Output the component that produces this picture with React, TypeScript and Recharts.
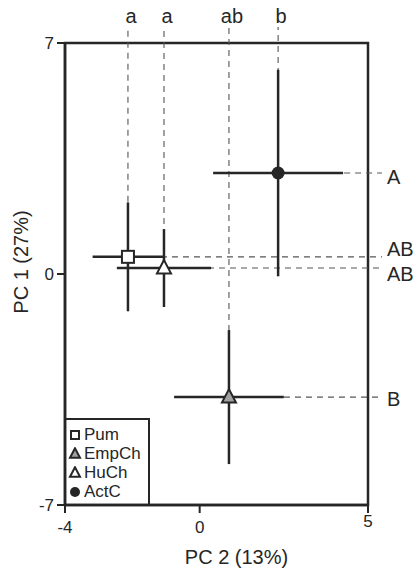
import {
  ErrorBar,
  Legend,
  ReferenceArea,
  ReferenceLine,
  Scatter,
  ScatterChart,
  XAxis,
  YAxis,
} from 'recharts';

const SERIES = ['Pum', 'EmpCh', 'HuCh', 'ActC'];
const PC2 = [-2.13, 0.87, -1.06, 2.33];
const PC1 = [0.52, -3.73, 0.18, 3.06];
const PC2_ERR = [1.05, 1.63, 1.4, 1.93];
const PC1_ERR = [1.65, 2.03, 1.18, 3.13];
const PC2_LETTERS = ['a', 'ab', 'a', 'b'];
const PC1_LETTERS = ['AB', 'B', 'AB', 'A'];
const X_TICKS = [-4, 0, 5];
const Y_TICKS = [-7, 0, 7];

const INK = '#262626';
const DASH = '#555';
const FONT = "'Liberation Sans', Arial, sans-serif";
// vertical nudge (px) for right-hand letters so the two AB's don't collide
const RIGHT_NUDGE = [-8, 2, 6, 4];

function Marker({ name, cx, cy, s }: { name: string; cx: number; cy: number; s: number }) {
  if (name === 'Pum') {
    return <rect x={cx - s / 2} y={cy - s / 2} width={s} height={s} fill="#fff" stroke={INK} strokeWidth={2} />;
  }
  if (name === 'ActC') {
    return <circle cx={cx} cy={cy} r={s / 2} fill={INK} />;
  }
  const h = s * 0.95;
  const pts = `${cx},${cy - h * 0.6} ${cx - s / 2},${cy + h * 0.4} ${cx + s / 2},${cy + h * 0.4}`;
  return (
    <polygon
      points={pts}
      fill={name === 'EmpCh' ? '#a0a0a0' : '#fff'}
      stroke={INK}
      strokeWidth={2}
      strokeLinejoin="miter"
    />
  );
}

const topTag = (letter: string) => (p: any) => (
  <g>
    <line x1={p.x1} y1={p.y1} x2={p.x2} y2={p.y2 - 16} stroke={DASH} strokeWidth={1.1} strokeDasharray="6 5" />
    <text x={p.x2 + 3} y={p.y2 - 20} textAnchor="middle" fontSize={20} fontFamily={FONT} fill={INK}>
      {letter}
    </text>
  </g>
);

const rightTag = (letter: string, nudge: number) => (p: any) => (
  <g>
    <line x1={p.x1} y1={p.y1} x2={p.x2 + 14} y2={p.y2} stroke={DASH} strokeWidth={1.1} strokeDasharray="6 5" />
    <text x={p.x2 + 19} y={p.y2 + nudge} dy="0.36em" textAnchor="start" fontSize={20} fontFamily={FONT} fill={INK}>
      {letter}
    </text>
  </g>
);

const XTick = (props: any) => {
  const { x, y, payload, index } = props;
  const lift = index === X_TICKS.length - 1 ? -6 : 0;
  return (
    <text x={x} y={y + lift} dy="0.71em" textAnchor="middle" fontSize={17} fontFamily={FONT} fill={INK}>
      {payload.value}
    </text>
  );
};

const renderLegend = () => (
  <div
    style={{
      width: 85,
      height: 87,
      boxSizing: 'border-box',
      borderTop: `2px solid ${INK}`,
      borderRight: `2px solid ${INK}`,
      paddingTop: 5,
      fontFamily: FONT,
      fontSize: 17,
      color: INK,
    }}
  >
    {SERIES.map((name) => (
      <div key={name} style={{ display: 'flex', alignItems: 'center', height: 19 }}>
        <svg width={19} height={14} style={{ flex: 'none' }}>
          <Marker name={name} cx={10} cy={7} s={name === 'Pum' ? 8 : 10} />
        </svg>
        <span>{name}</span>
      </div>
    ))}
  </div>
);

export default function App() {
  return (
    <div style={{ position: 'absolute', left: 0, top: 0, width: 417, height: 572, background: '#fff' }}>
      <ScatterChart width={417} height={572} margin={{ top: 43, right: 49, bottom: 0, left: 0 }}>
        <XAxis
          type="number"
          dataKey="x"
          domain={[-4, 5]}
          ticks={X_TICKS}
          allowDataOverflow
          height={67}
          tickSize={8}
          tickMargin={8}
          axisLine={{ stroke: INK, strokeWidth: 2.5 }}
          tickLine={{ stroke: INK, strokeWidth: 2 }}
          tick={<XTick />}
          label={(p: any) => {
            const vb = p.viewBox;
            return (
              <text
                x={vb.x + vb.width / 2 + 20}
                y={564}
                textAnchor="middle"
                fontSize={20}
                fontFamily={FONT}
                fill={INK}
              >
                PC 2 (13%)
              </text>
            );
          }}
        />
        <YAxis
          type="number"
          dataKey="y"
          domain={[-7, 7]}
          ticks={Y_TICKS}
          allowDataOverflow
          width={65}
          tickSize={8}
          tickMargin={3}
          axisLine={{ stroke: INK, strokeWidth: 2.5 }}
          tickLine={{ stroke: INK, strokeWidth: 2 }}
          tick={{ fontSize: 17, fontFamily: FONT, fill: INK }}
          label={(p: any) => {
            const vb = p.viewBox;
            const cy = vb.y + vb.height / 2 - 12;
            return (
              <text
                x={28}
                y={cy}
                transform={`rotate(-90, 28, ${cy})`}
                textAnchor="middle"
                fontSize={20}
                fontFamily={FONT}
                fill={INK}
              >
                PC 1 (27%)
              </text>
            );
          }}
        />
        {SERIES.map((name, i) => (
          <ReferenceLine
            key={`v-${name}`}
            segment={[
              { x: PC2[i], y: PC1[i] },
              { x: PC2[i], y: 7 },
            ]}
            ifOverflow="visible"
            shape={topTag(PC2_LETTERS[i])}
          />
        ))}
        {SERIES.map((name, i) => (
          <ReferenceLine
            key={`h-${name}`}
            segment={[
              { x: PC2[i], y: PC1[i] },
              { x: 5, y: PC1[i] },
            ]}
            ifOverflow="visible"
            shape={rightTag(PC1_LETTERS[i], RIGHT_NUDGE[i])}
          />
        ))}
        <ReferenceArea x1={-4} x2={5} y1={-7} y2={7} fill="none" stroke={INK} strokeWidth={2.5} />
        {SERIES.map((name, i) => (
          <Scatter
            key={name}
            name={name}
            data={[{ x: PC2[i], y: PC1[i], ex: PC2_ERR[i], ey: PC1_ERR[i] }]}
            isAnimationActive={false}
            shape={(p: any) => <Marker name={name} cx={p.cx} cy={p.cy} s={name === 'Pum' ? 12 : name === 'ActC' ? 13 : 14} />}
          >
            <ErrorBar dataKey="ex" direction="x" width={0} stroke={INK} strokeWidth={2.5} isAnimationActive={false} />
            <ErrorBar dataKey="ey" direction="y" width={0} stroke={INK} strokeWidth={2.5} isAnimationActive={false} />
          </Scatter>
        ))}
        <Legend
          layout="vertical"
          align="center"
          verticalAlign="middle"
          content={renderLegend}
          wrapperStyle={{ position: 'absolute', left: 65, top: 418, width: 85, height: 87 }}
        />
      </ScatterChart>
    </div>
  );
}
